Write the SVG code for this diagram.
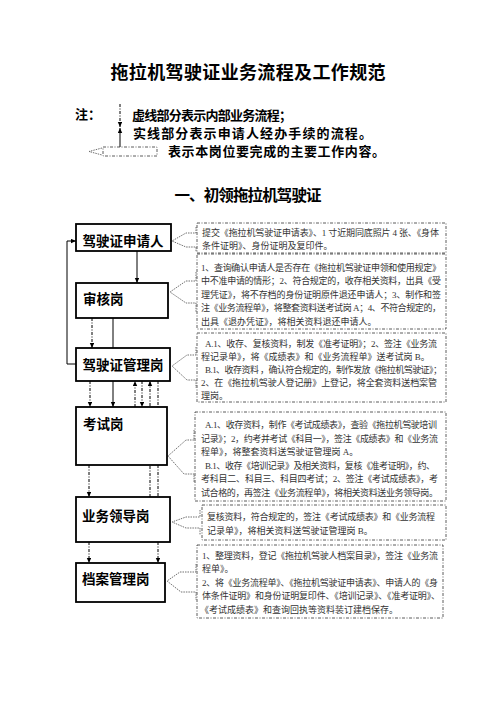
<svg xmlns="http://www.w3.org/2000/svg" width="496" height="702" viewBox="0 0 496 702">
<defs>
<marker id="ah" markerUnits="userSpaceOnUse" markerWidth="6" markerHeight="5" refX="5" refY="2.2" orient="auto"><path d="M0,0 L5,2.2 L0,4.4 z" fill="#000"/></marker>
<style>
.hd{font-family:"Noto Sans CJK SC","Liberation Sans",sans-serif;font-weight:bold;fill:#000}
.nd{fill:#fff;stroke:#000;stroke-width:1.8}
.nt{font-family:"Noto Sans CJK SC",sans-serif;font-weight:bold;font-size:13.5px;fill:#000}
.tb{fill:#fff;stroke:#333;stroke-width:0.8;stroke-dasharray:3 1.5 1 1.5}
.tx{font-family:"Liberation Serif","Noto Sans CJK SC",serif;font-size:9px;fill:#333}
.wg{fill:none;stroke:#333;stroke-width:0.7;stroke-dasharray:1.5 1}
.sl{fill:none;stroke:#000;stroke-width:1}
.dl{fill:none;stroke:#000;stroke-width:1;stroke-dasharray:3 1.5 1 1.5}
</style>
</defs>
<rect width="496" height="702" fill="#fff"/>
<text class="hd" x="248" y="79" font-size="18" text-anchor="middle" textLength="275">拖拉机驾驶证业务流程及工作规范</text>
<g id="legend">
<text class="hd" x="75" y="119" font-size="13">注：</text>
<line class="dl" x1="120" y1="104" x2="120" y2="127" marker-end="url(#ah)"/>
<line class="sl" x1="120" y1="147" x2="120" y2="128" marker-end="url(#ah)"/>
<text class="hd" x="132" y="120" font-size="13" textLength="160">虚线部分表示内部业务流程；</text>
<text class="hd" x="133" y="138" font-size="13" textLength="239">实线部分表示申请人经办手续的流程。</text>
<rect class="tb" x="103" y="147" width="54" height="9"/>
<path class="wg" d="M102,148 L89,151.5 L102,155"/>
<text class="hd" x="168" y="156" font-size="13" textLength="217">表示本岗位要完成的主要工作内容。</text>
</g>
<text class="hd" x="248" y="201" font-size="15.5" text-anchor="middle" textLength="147">一、初领拖拉机驾驶证</text>
<g id="connectors">
<line class="sl" x1="137" y1="251" x2="137" y2="283" marker-end="url(#ah)"/>
<line class="dl" x1="92" y1="318" x2="92" y2="348" marker-end="url(#ah)"/>
<line class="sl" x1="113" y1="318" x2="113" y2="407" marker-end="url(#ah)"/>
<polyline class="sl" points="76,364 67,364 67,241 76,241" marker-end="url(#ah)"/>
<line class="dl" x1="90" y1="381" x2="90" y2="407" marker-end="url(#ah)"/>
<line class="dl" x1="135" y1="407" x2="135" y2="381" marker-end="url(#ah)"/>
<line class="dl" x1="142" y1="381" x2="142" y2="407" marker-end="url(#ah)"/>
<line class="dl" x1="150" y1="497" x2="150" y2="381" marker-end="url(#ah)"/>
<line class="dl" x1="158" y1="381" x2="158" y2="563" marker-end="url(#ah)"/>
<line class="dl" x1="89" y1="465" x2="89" y2="497" marker-end="url(#ah)"/>
<line class="dl" x1="89" y1="542" x2="89" y2="563" marker-end="url(#ah)"/>
</g>
<g id="n1">
<rect class="nd" x="76" y="224" width="95" height="27"/>
<text class="nt" x="123" y="246" text-anchor="middle">驾驶证申请人</text>
<path class="wg" d="M196,227 L196,233 L186,233 L172,241 L186,247 L196,247 L196,252"/>
<rect class="tb" x="197" y="223" width="249" height="30"/>
<text class="tx" x="202" y="235.5" textLength="237" lengthAdjust="spacing">提交《拖拉机驾驶证申请表》、1 寸近期同底照片 4 张、《身体</text>
<text class="tx" x="202" y="248.5">条件证明》、身份证明及复印件。</text>
</g>
<g id="n2">
<rect class="nd" x="76" y="283" width="92" height="35"/>
<text class="nt" x="83" y="304">审核岗</text>
<path class="wg" d="M196,272 L196,281 L186,281 L170,292 L186,303 L196,303 L196,312"/>
<rect class="tb" x="197" y="254" width="249" height="75"/>
<text class="tx" x="201" y="270.5" textLength="240" lengthAdjust="spacing">1、查询确认申请人是否存在《拖拉机驾驶证申领和使用规定》</text>
<text class="tx" x="201" y="284" textLength="240" lengthAdjust="spacing">中不准申请的情形；2、符合规定的，收存相关资料，出具《受</text>
<text class="tx" x="201" y="297.5" textLength="240" lengthAdjust="spacing">理凭证》，将不存档的身份证明原件退还申请人；3、制作和签</text>
<text class="tx" x="201" y="311" textLength="240" lengthAdjust="spacing">注《业务流程单》，将整套资料送考试岗 A；4、不符合规定的，</text>
<text class="tx" x="201" y="324.5">出具《退办凭证》，将相关资料退还申请人。</text>
</g>
<g id="n3">
<rect class="nd" x="76" y="348" width="94" height="33"/>
<text class="nt" x="123" y="370" text-anchor="middle">驾驶证管理岗</text>
<path class="wg" d="M196,347 L196,355 L187,355 L172,366 L187,380 L196,380 L196,388"/>
<rect class="tb" x="197" y="333" width="249" height="69"/>
<text class="tx" x="205" y="347" textLength="232" lengthAdjust="spacing">A.1、收存、复核资料，制发《准考证明》；2、签注《业务流</text>
<text class="tx" x="201" y="360">程记录单》，将《成绩表》和《业务流程单》送考试岗 B。</text>
<text class="tx" x="205" y="373" textLength="237" lengthAdjust="spacing">B.1、收存资料 ，确认符合规定的，制作发放《拖拉机驾驶证》；</text>
<text class="tx" x="201" y="386" textLength="236" lengthAdjust="spacing">2、在《拖拉机驾驶人登记册》上登记，将全套资料送档案管</text>
<text class="tx" x="201" y="399">理岗。</text>
</g>
<g id="n4">
<rect class="nd" x="76" y="407" width="91" height="58"/>
<text class="nt" x="83" y="429">考试岗</text>
<path class="wg" d="M194,430 L194,440 L186,440 L168,456 L184,474 L194,474 L194,482"/>
<rect class="tb" x="195" y="412" width="251" height="89"/>
<text class="tx" x="205" y="427.5" textLength="232" lengthAdjust="spacing">A.1、收存资料，制作《考试成绩表》，查验《拖拉机驾驶培训</text>
<text class="tx" x="201" y="441.5" textLength="237" lengthAdjust="spacing">记录》；2，约考并考试《科目一》，签注《成绩表》和《业务流</text>
<text class="tx" x="201" y="454.5">程单》，将整套资料送驾驶证管理岗 A。</text>
<text class="tx" x="205" y="468.5" textLength="230" lengthAdjust="spacing">B.1、收存《培训记录》及相关资料，复核《准考证明》，约、</text>
<text class="tx" x="201" y="481.5" textLength="237" lengthAdjust="spacing">考科目二、科目三、科目四考试；2、签注《考试成绩表》，考</text>
<text class="tx" x="201" y="495.5" textLength="237" lengthAdjust="spacing">试合格的，再签注《业务流程单》，将相关资料送业务领导岗。</text>
</g>
<g id="n5">
<rect class="nd" x="76" y="497" width="94" height="45"/>
<text class="nt" x="82" y="521">业务领导岗</text>
<path class="wg" d="M200,510 L200,517 L186,517 L172,522 L186,528 L200,528 L200,535"/>
<rect class="tb" x="202" y="505" width="244" height="35"/>
<text class="tx" x="207" y="519.5" textLength="228" lengthAdjust="spacing">复核资料，符合规定的，签注《考试成绩表》和《业务流程</text>
<text class="tx" x="207" y="533.5">记录单》，将相关资料送驾驶证管理岗 B。</text>
</g>
<g id="n6">
<rect class="nd" x="76" y="563" width="89" height="39"/>
<text class="nt" x="82" y="584">档案管理岗</text>
<path class="wg" d="M196,564 L196,572 L180,572 L167,581 L181,592 L196,592 L196,600"/>
<rect class="tb" x="197" y="545" width="246" height="73"/>
<text class="tx" x="202" y="558.5" textLength="236" lengthAdjust="spacing">1、整理资料，登记《拖拉机驾驶人档案目录》，签注《业务流</text>
<text class="tx" x="202" y="572">程单》。</text>
<text class="tx" x="202" y="585.5" textLength="236" lengthAdjust="spacing">2、将《业务流程单》、《拖拉机驾驶证申请表》、申请人的《身</text>
<text class="tx" x="202" y="599" textLength="238" lengthAdjust="spacing">体条件证明》和身份证明复印件、《培训记录》、《准考证明》、</text>
<text class="tx" x="200" y="612.5">《考试成绩表》和查询回执等资料装订建档保存。</text>
</g>
</svg>
